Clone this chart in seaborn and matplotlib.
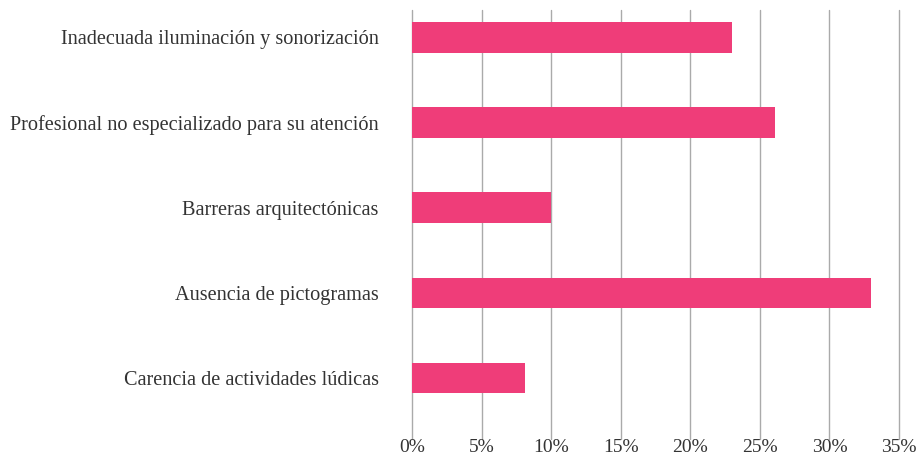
import numpy as np
import pandas as pd
import seaborn as sns
import matplotlib.pyplot as plt

categories = [
    "Inadecuada iluminación y sonorización",
    "Profesional no especializado para su atención",
    "Barreras arquitectónicas",
    "Ausencia de pictogramas",
    "Carencia de actividades lúdicas",
]
values = [23.0, 26.1, 10.0, 33.0, 8.1]
ticks = [0, 5, 10, 15, 20, 25, 30, 35]

df = pd.DataFrame({"causa": categories, "pct": values})

sns.set_style("white")
plt.rcParams["font.family"] = ["Liberation Serif", "DejaVu Serif"]

fig = plt.figure(figsize=(9.17, 4.57), dpi=100)
ax = fig.add_axes([412 / 917, 18 / 457, 487 / 917, 429 / 457])

sns.barplot(data=df, x="pct", y="causa", color="#EF3D79", width=0.36,
            saturation=1, ax=ax, zorder=3, linewidth=0)

ax.set_xlim(0, 35)
ax.set_ylim(4 + 61 / 85.2, -27.5 / 85.2)
ax.set_xticks(ticks)
ax.set_xticklabels([f"{t}%" for t in ticks], fontsize=14, color="#333333")
ax.tick_params(axis="y", labelsize=14.6, labelcolor="#333333", length=0, pad=24)
ax.tick_params(axis="x", length=0, pad=0)
ax.grid(axis="x", color="#aaaaaa", linewidth=1, zorder=0)
for gl in ax.get_xgridlines():
    gl.set_clip_on(False)
ax.set_axisbelow(True)
sns.despine(ax=ax, left=True, bottom=True)
ax.set_xlabel("")
ax.set_ylabel("")

fig.savefig("out.png", dpi=100)
